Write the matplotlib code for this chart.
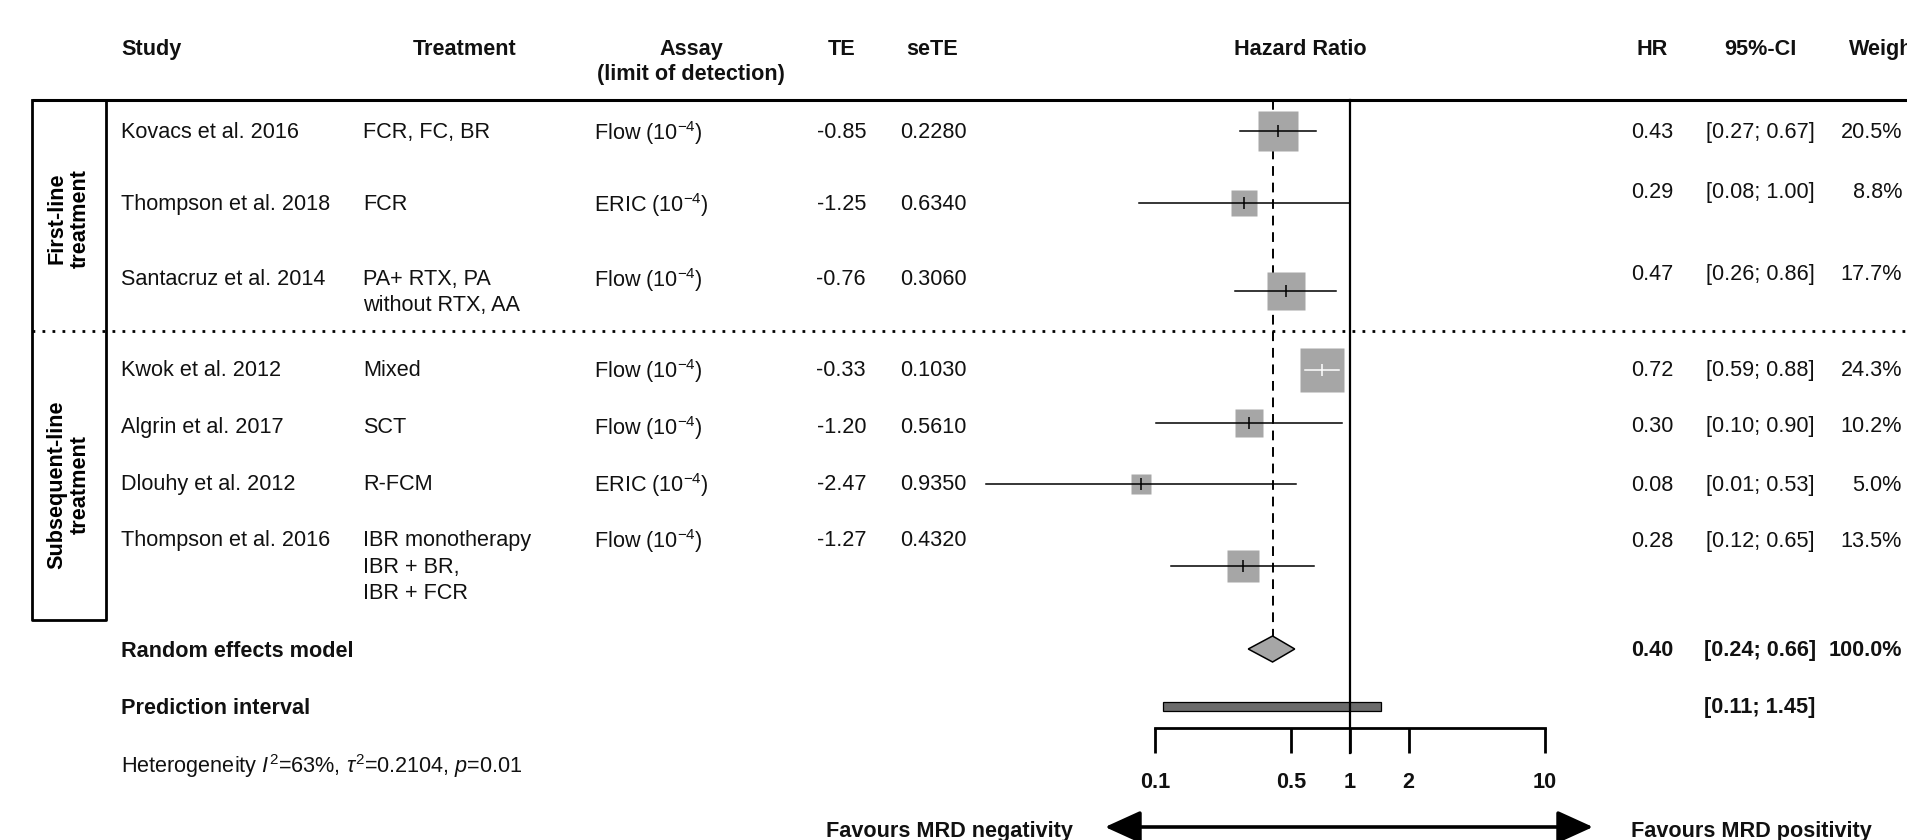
import numpy as np
import matplotlib.pyplot as plt
from matplotlib.patches import Polygon

plt.rcParams['font.family'] = ['Liberation Sans', 'DejaVu Sans']
plt.rcParams['mathtext.fontset'] = 'custom'
plt.rcParams['mathtext.rm'] = 'Liberation Sans'
plt.rcParams['mathtext.it'] = 'Liberation Sans:italic'
plt.rcParams['mathtext.bf'] = 'Liberation Sans:bold'

# ---------- data ----------
studies = ["Kovacs et al. 2016", "Thompson et al. 2018", "Santacruz et al. 2014",
           "Kwok et al. 2012", "Algrin et al. 2017", "Dlouhy et al. 2012",
           "Thompson et al. 2016"]
treatments = ["FCR, FC, BR", "FCR", "PA+ RTX, PA\nwithout RTX, AA", "Mixed", "SCT",
              "R-FCM", "IBR monotherapy\nIBR + BR,\nIBR + FCR"]
assays = ["Flow (10$^{-4}$)", "ERIC (10$^{-4}$)", "Flow (10$^{-4}$)", "Flow (10$^{-4}$)",
          "Flow (10$^{-4}$)", "ERIC (10$^{-4}$)", "Flow (10$^{-4}$)"]
te = [-0.85, -1.25, -0.76, -0.33, -1.20, -2.47, -1.27]
sete = [0.2280, 0.6340, 0.3060, 0.1030, 0.5610, 0.9350, 0.4320]
hr_text = ["0.43", "0.29", "0.47", "0.72", "0.30", "0.08", "0.28"]
ci_text = ["[0.27; 0.67]", "[0.08; 1.00]", "[0.26; 0.86]", "[0.59; 0.88]",
           "[0.10; 0.90]", "[0.01; 0.53]", "[0.12; 0.65]"]
weights = [20.5, 8.8, 17.7, 24.3, 10.2, 5.0, 13.5]
groups = ["First-line\ntreatment", "Subsequent-line\ntreatment"]

pooled_hr = 0.40
pooled_ci = "[0.24; 0.66]"
diamond_lo, diamond_hi = 0.30, 0.52   # diamond as drawn in the figure
pred_lo, pred_hi = 0.11, 1.45
pred_ci = "[0.11; 1.45]"
het_text = r"Heterogeneity $I^2$=63%, $\tau^2$=0.2104, $p$=0.01"
axis_ticks = [0.1, 0.5, 1, 2, 10]

# ---------- layout (pixels) ----------
W, H = 1907, 840
FS = 15.6
LINE = 26.5
study_y = [130, 202, 277, 368, 425, 482, 538]
stat_y = [130, 190, 272, 368, 424, 483, 539]
mark_y = [131, 203, 291, 370, 423, 484, 566]
group_y = [218, 485]
X1, DEC = 1350, 194.6     # x of HR=1, pixels per decade

fig = plt.figure(figsize=(W / 100, H / 100), dpi=100)
ax = fig.add_axes([0, 0, 1, 1])
ax.set_xlim(0, W)
ax.set_ylim(H, 0)
ax.axis('off')

fx_l, fx_r = 960, 1620
fx = fig.add_axes([fx_l / W, 0, (fx_r - fx_l) / W, 1])
fx.set_xscale('log')
fx.set_xlim(10 ** ((fx_l - X1) / DEC), 10 ** ((fx_r - X1) / DEC))
fx.set_ylim(H, 0)
fx.axis('off')


def put(x, y, s, ha='left', bold=False, step=LINE):
    for i, line in enumerate(s.split('\n')):
        ax.text(x, y + i * step, line, ha=ha, va='center_baseline', fontsize=FS,
                fontweight='bold' if bold else 'normal', color='#111111')


# headers
put(121, 47, "Study", bold=True)
put(465, 47, "Treatment", ha='center', bold=True)
put(691, 47, "Assay\n(limit of detection)", ha='center', bold=True, step=25)
put(842, 47, "TE", ha='center', bold=True)
put(932, 47, "seTE", ha='center', bold=True)
put(1300, 47, "Hazard Ratio", ha='center', bold=True)
put(1652, 47, "HR", ha='center', bold=True)
put(1760, 47, "95%-CI", ha='center', bold=True)
put(1849, 47, "Weight", bold=True)

# table body
for i in range(len(studies)):
    put(121, study_y[i], studies[i])
    put(363, study_y[i], treatments[i])
    put(594, study_y[i], assays[i])
    put(866, study_y[i], f"{te[i]:.2f}", ha='right')
    put(933, study_y[i], f"{sete[i]:.4f}", ha='center')
    put(1673, stat_y[i], hr_text[i], ha='right')
    put(1760, stat_y[i], ci_text[i], ha='center')
    put(1902, stat_y[i], f"{weights[i]:.1f}%", ha='right')

put(121, 649, "Random effects model", bold=True)
put(1673, 648, f"{pooled_hr:.2f}", ha='right', bold=True)
put(1760, 648, pooled_ci, ha='center', bold=True)
put(1902, 648, f"{sum(weights):.1f}%", ha='right', bold=True)
put(121, 706, "Prediction interval", bold=True)
put(1760, 705, pred_ci, ha='center', bold=True)
put(121, 763, het_text)

# frame lines and group box
ax.plot([32, W], [100, 100], color='black', lw=2.2, solid_capstyle='butt')
ax.plot([32, 32, 106, 106], [100, 620, 620, 100], color='black', lw=2.0)
ax.plot([32, W], [331, 331], color='black', lw=2.0, linestyle=(0, (1, 2.6)))
for g, gy in zip(groups, group_y):
    ax.text(69, gy, g, rotation=90, ha='center', va='center', fontsize=FS,
            fontweight='bold', multialignment='center', linespacing=1.15)

# forest marks
te_a = np.array(te)
se_a = np.array(sete)
hr = np.exp(te_a)
lo = np.exp(te_a - 1.96 * se_a)
hi = np.exp(te_a + 1.96 * se_a)
side = 8.8 * np.sqrt(weights)
for h, l, u, y, s in zip(hr, lo, hi, mark_y, side):
    fx.plot(h, y, marker='s', ms=s * 0.72, color='#a6a6a6', mec='none', zorder=2)
    half = s / 2 / DEC
    inside = np.log10(l) > np.log10(h) - half and np.log10(u) < np.log10(h) + half
    c = 'white' if inside else 'black'
    fx.plot([l, u], [y, y], color=c, lw=1.1, zorder=3)
    fx.plot(h, y, marker='|', ms=8.6, mew=1.1, color=c, zorder=3)

# reference lines
fx.plot([1, 1], [100, 753], color='black', lw=1.6, zorder=4)
fx.plot([pooled_hr, pooled_hr], [100, 636], color='black', lw=1.4,
        linestyle=(0, (5, 3.5)), zorder=1)

# pooled diamond and prediction interval
fx.add_patch(Polygon([(diamond_lo, 649), (pooled_hr, 636), (diamond_hi, 649), (pooled_hr, 662)],
                     closed=True, facecolor='#a6a6a6', edgecolor='black', lw=1.1, zorder=3))
fx.add_patch(Polygon([(pred_lo, 702), (pred_hi, 702), (pred_hi, 711), (pred_lo, 711)],
                     closed=True, facecolor='#6b6b6b', edgecolor='black', lw=0.9, zorder=3))

# x axis
fx.plot([axis_ticks[0], axis_ticks[-1]], [728, 728], color='black', lw=2.0,
        solid_capstyle='projecting')
fx.vlines(axis_ticks, 728, 753, color='black', lw=2.0)
for t in axis_ticks:
    fx.text(t, 780, f"{t:g}", ha='center', va='center_baseline', fontsize=FS,
            fontweight='bold', color='#111111')

# favours arrow
ax.annotate('', xy=(1105, 827), xytext=(1593, 827),
            arrowprops=dict(arrowstyle='<|-|>,head_length=1.1,head_width=0.5', lw=2.6,
                            color='black', shrinkA=0, shrinkB=0, mutation_scale=20))
put(1073, 829, "Favours MRD negativity", ha='right', bold=True)
put(1631, 829, "Favours MRD positivity", bold=True)

fig.savefig("out.png", dpi=100)
